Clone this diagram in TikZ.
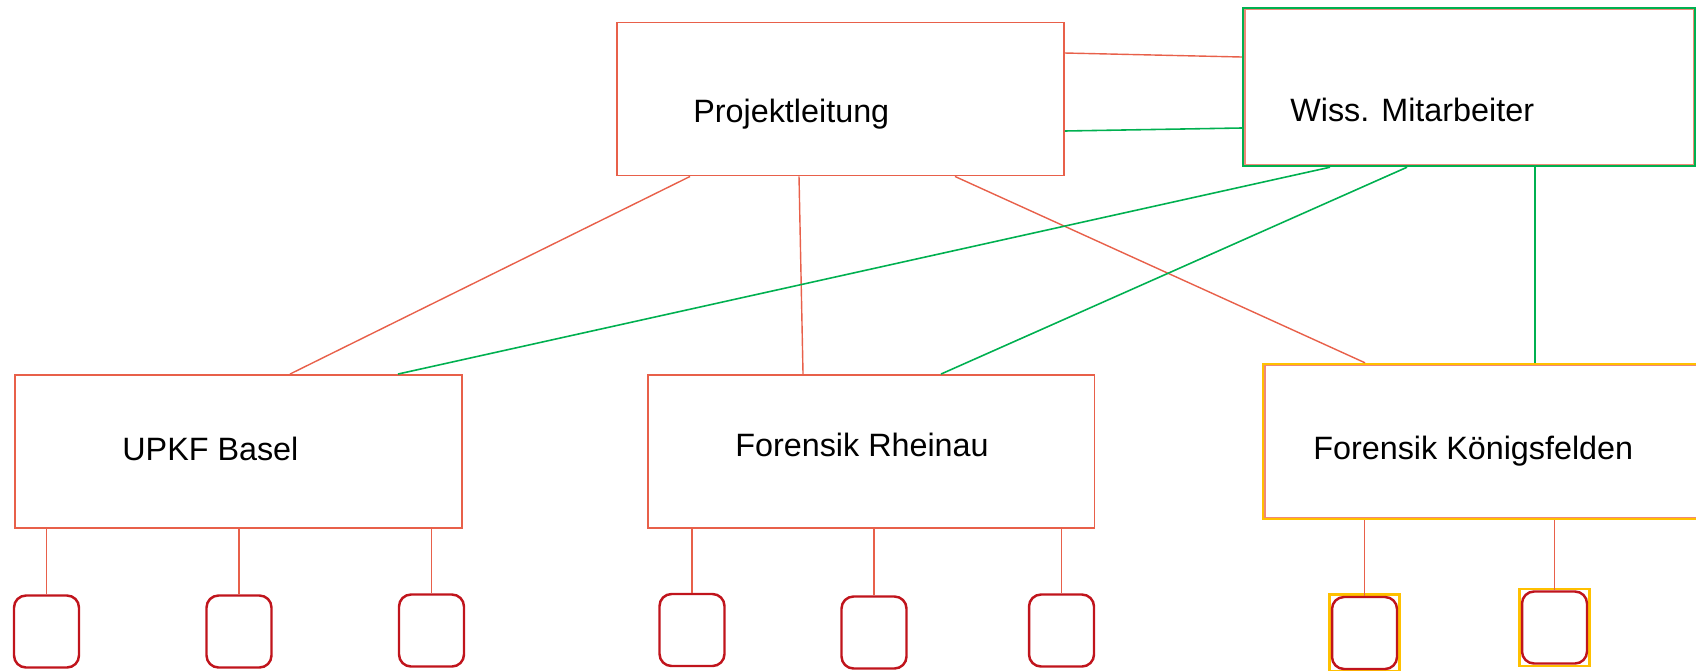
\documentclass[tikz,border=0pt]{standalone}
\usepackage{fontspec}
\setmainfont{Liberation Sans}
\usepackage{tikz}
\usetikzlibrary{positioning,calc}

\definecolor{linered}{HTML}{E8604A}
\definecolor{boxgreen}{HTML}{00B050}
\definecolor{leafred}{HTML}{C0141C}
\definecolor{frameyellow}{HTML}{FFC000}
\definecolor{innerred}{HTML}{F08878}

\tikzset{
	unit/.style={draw=linered,line width=1.1pt,rectangle,inner sep=0pt,minimum width=8.94cm,minimum height=3.06cm},
	leaf/.style={draw=leafred,line width=1.4pt,rectangle,rounded corners=0.24cm,inner sep=0pt,minimum width=1.3cm,minimum height=1.44cm},
	boxtext/.style={inner sep=0pt,anchor=base west,font=\fontsize{18.4}{22}\selectfont},
	redline/.style={draw=linered,line width=0.8pt},
	greenline/.style={draw=boxgreen,line width=0.9pt}
}

\begin{document}
\begin{tikzpicture}[x=0.02cm,y=-0.02cm]
		\useasboundingbox (0,0) rectangle (1696,670);
		% top row
		\node[unit] (pl) at (840.5,99) {};
		\node[unit,draw=boxgreen,line width=1.4pt,minimum width=9.04cm,minimum height=3.16cm] (wiss) at (1469,87) {};
		\draw[innerred,line width=0.8pt] ([shift={(0.06cm,0.06cm)}]wiss.south west) rectangle ([shift={(-0.06cm,-0.06cm)}]wiss.north east);
		% middle row
		\node[unit] (upkf) at (238.5,451.5) {};
		\node[unit] (rheinau) at (871,451.5) {};
		\node[unit,draw=frameyellow,line width=1.4pt,minimum width=8.74cm,minimum height=3.1cm] (kf) at (1481.5,441.5) {};
		\draw[innerred,line width=0.8pt] ([shift={(0.06cm,0.06cm)}]kf.south west) rectangle ([shift={(-0.06cm,-0.06cm)}]kf.north east);
		% texts
		\node[boxtext] (pl-text) at (693,122) {Projektleitung};
		\node[boxtext] (wiss-text) at (1290,121) {Wiss. Mitarbeiter};
		\node[boxtext] (upkf-text) at (122,460) {UPKF Basel};
		\node[boxtext] (rheinau-text) at (735,456) {Forensik Rheinau};
		\node[boxtext] (kf-text) at (1313,459) {Forensik Königsfelden};
		% connectors between the two heads
		\draw[redline] ([yshift=0.92cm]pl.east) -- ([yshift=0.6cm]wiss.west);
		\draw[greenline] ([yshift=-0.64cm]pl.east) -- ([yshift=-0.82cm]wiss.west);
		% Projektleitung to units
		\draw[redline] ([xshift=-3.01cm]pl.south) -- ([xshift=1.03cm]upkf.north);
		\draw[redline] ([xshift=-0.83cm]pl.south) -- ([xshift=-1.36cm]rheinau.north);
		\draw[redline] ([xshift=2.29cm]pl.south) -- ([xshift=-2.33cm]kf.north);
		% Mitarbeiter to units
		\draw[greenline] ([xshift=-2.78cm]wiss.south) -- ([xshift=3.19cm]upkf.north);
		\draw[greenline] ([xshift=-1.24cm]wiss.south) -- ([xshift=1.4cm]rheinau.north);
		\draw[greenline] ([xshift=1.32cm]wiss.south) -- ([xshift=1.07cm]kf.north);
		% leaves
		\foreach \n/\x/\y in {u1/46.5/631.5,u2/239/631.5,u3/431.5/630.5,r1/692/630,r2/874/632.5,r3/1061.5/630.5}
			\node[leaf] (\n) at (\x,\y) {};
		\foreach \n/\x/\y in {k1/1364.5/633,k2/1554.5/627.5}{
			\draw[frameyellow,line width=1.5pt] ([shift={(-0.05cm,-0.05cm)}]\x,\y) ++(-0.65cm,-0.72cm) rectangle ++(1.4cm,1.54cm);
			\node[leaf] (\n) at (\x,\y) {};
		}
		\foreach \n/\p in {u1/upkf,u2/upkf,u3/upkf,r1/rheinau,r2/rheinau,r3/rheinau,k1/kf,k2/kf}
			\draw[redline] (\n.north |- \p.south) -- (\n.north);
\end{tikzpicture}
\end{document}
